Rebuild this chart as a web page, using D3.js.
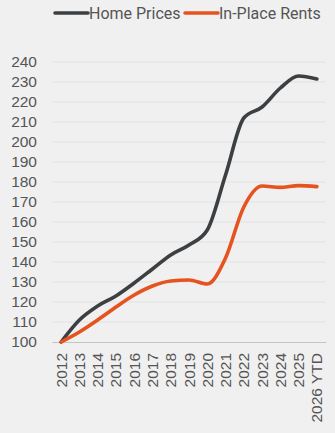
<!DOCTYPE html>
<html>
<head>
<meta charset="utf-8">
<script src="https://cdn.jsdelivr.net/npm/d3@7"></script>
<style>
  html, body { margin: 0; padding: 0; background: #f0f0f0; }
  svg { display: block; font-family: Roboto, "Noto Sans", sans-serif; }
</style>
</head>
<body>
<svg id="chart" width="335" height="433"></svg>
<script>
// Index values (2012 = 100)
const years = ["2012","2013","2014","2015","2016","2017","2018","2019","2020","2021","2022","2023","2024","2025","2026 YTD"];
const homePrices = [100, 111, 118, 123, 129.5, 136.5, 143.5, 148.5, 156, 183.5, 212, 217.5, 227, 233, 231.5];
const inPlaceRents = [100, 105, 111, 117.5, 123.5, 128, 130.5, 131, 129, 142, 167.5, 178, 177.3, 178.2, 177.7];
const yTicks = [100,110,120,130,140,150,160,170,180,190,200,210,220,230,240];

const seriesNames = ["Home Prices", "In-Place Rents"];
const seriesColors = ["#3d4043", "#e6531f"];

const svg = d3.select("#chart");
const margin = { left: 52, right: 9, top: 62, bottom: 91 };
const W = 335, H = 433;

const x = d3.scaleBand().domain(years).range([margin.left, W - margin.right]);
const y = d3.scaleLinear().domain([100, 240]).range([H - margin.bottom, margin.top]);
const cx = d => x(d) + x.bandwidth() / 2;

// gridlines
svg.append("g")
  .selectAll("line")
  .data(yTicks.slice(1))
  .join("line")
  .attr("x1", margin.left).attr("x2", W - margin.right)
  .attr("y1", d => y(d)).attr("y2", d => y(d))
  .attr("stroke", "#e2e2e4").attr("stroke-width", 1);

// y axis labels
const yAxis = svg.append("g")
  .attr("transform", `translate(${margin.left},0)`)
  .call(d3.axisLeft(y).tickValues(yTicks).tickSize(0).tickPadding(15));
yAxis.select(".domain").remove();
yAxis.selectAll("text").attr("fill", "#555").attr("font-size", 15.5);

// x axis
const xAxis = svg.append("g")
  .attr("transform", `translate(0,${y(100)})`)
  .call(d3.axisBottom(x).tickSize(0).tickPadding(0));
xAxis.select(".domain").attr("stroke", "#c4c4c4").attr("stroke-width", 1.2);
xAxis.selectAll("text")
  .attr("fill", "#555").attr("font-size", 15.5)
  .attr("text-anchor", "end")
  .attr("dy", null)
  .attr("transform", "rotate(-90)")
  .attr("x", -11).attr("y", 0)
  .attr("dominant-baseline", "central");

// series lines
const line = d3.line()
  .x((d, i) => cx(years[i]))
  .y(d => y(d))
  .curve(d3.curveMonotoneX);

[homePrices, inPlaceRents].forEach((vals, i) => {
  svg.append("path")
    .datum(vals)
    .attr("fill", "none")
    .attr("stroke", seriesColors[i])
    .attr("stroke-width", 3.6)
    .attr("stroke-linecap", "round")
    .attr("stroke-linejoin", "round")
    .attr("d", line);
});

// legend
const legend = svg.append("g").attr("transform", "translate(55,13)");
const legendX = [0, 130];
seriesNames.forEach((name, i) => {
  const g = legend.append("g").attr("transform", `translate(${legendX[i]},0)`);
  g.append("line").attr("x1", 0).attr("x2", 33).attr("y1", 0).attr("y2", 0)
    .attr("stroke", seriesColors[i]).attr("stroke-width", 3.6).attr("stroke-linecap", "round");
  g.append("text").attr("x", 34).attr("y", 0).attr("dy", "0.35em")
    .attr("fill", "#555").attr("font-size", 16).text(name);
});
</script>
</body>
</html>
